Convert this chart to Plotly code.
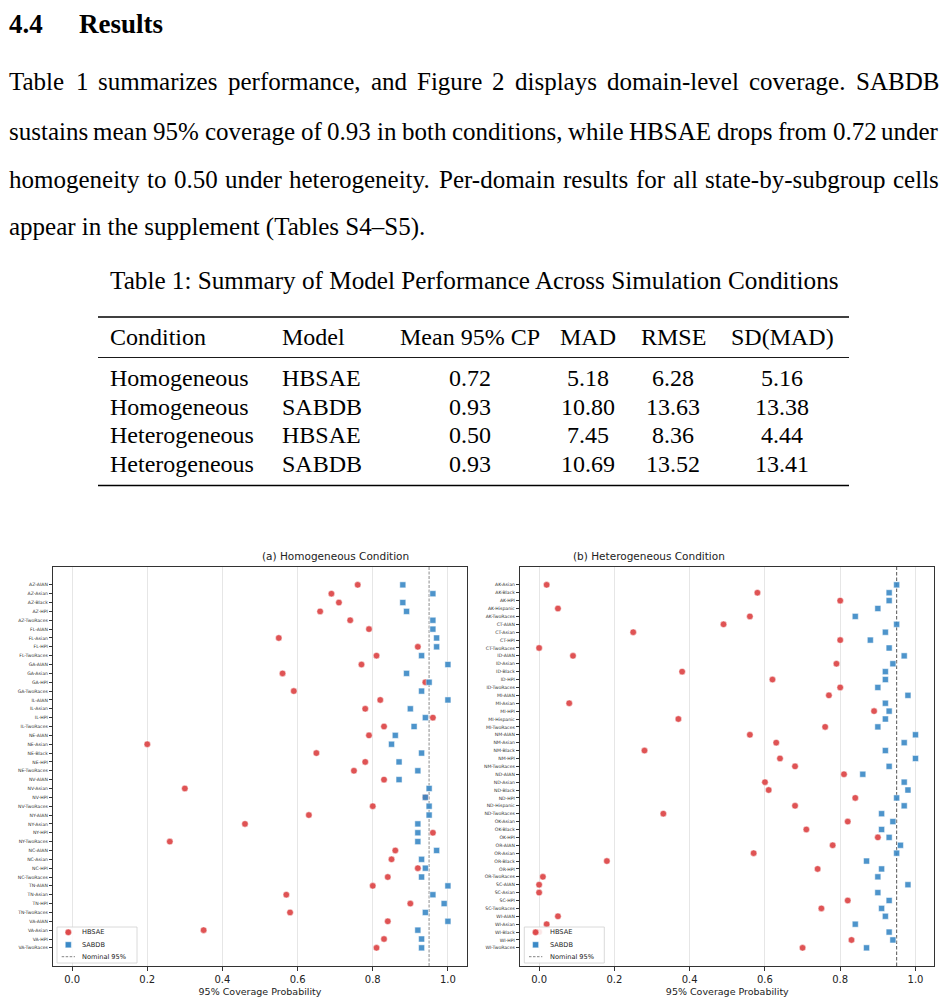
import plotly.graph_objects as go

W, H = 947, 1005
# the page body keeps an 8px margin, so the figure is drawn 8px smaller
OFF = 8
FW, FH = W - OFF, H - OFF

# -------------------------------------
# DATA
# -------------------------------------

homo_domains = [
    "AZ-AIAN", "AZ-Asian", "AZ-Black", "AZ-HPI", "AZ-TwoRaces",
    "FL-AIAN", "FL-Asian", "FL-HPI", "FL-TwoRaces",
    "GA-AIAN", "GA-Asian", "GA-HPI", "GA-TwoRaces",
    "IL-AIAN", "IL-Asian", "IL-HPI", "IL-TwoRaces",
    "NE-AIAN", "NE-Asian", "NE-Black", "NE-HPI", "NE-TwoRaces",
    "NV-AIAN", "NV-Asian", "NV-HPI", "NV-TwoRaces",
    "NY-AIAN", "NY-Asian", "NY-HPI", "NY-TwoRaces",
    "NC-AIAN", "NC-Asian", "NC-HPI", "NC-TwoRaces",
    "TN-AIAN", "TN-Asian", "TN-HPI", "TN-TwoRaces",
    "VA-AIAN", "VA-Asian", "VA-HPI", "VA-TwoRaces",
]
homo_hbsae = [
    0.76, 0.69, 0.71, 0.66, 0.74,
    0.79, 0.55, 0.92, 0.81,
    0.77, 0.56, 0.94, 0.59,
    0.82, 0.78, 0.96, 0.83,
    0.79, 0.20, 0.65, 0.78, 0.75,
    0.83, 0.30, 0.94, 0.80,
    0.63, 0.46, 0.96, 0.26,
    0.86, 0.85, 0.92, 0.84,
    0.80, 0.57, 0.90, 0.58,
    0.84, 0.35, 0.83, 0.81,
]
homo_sabdb = [
    0.88, 0.96, 0.88, 0.89, 0.96,
    0.96, 0.97, 0.97, 0.93,
    1.00, 0.89, 0.95, 0.93,
    1.00, 0.90, 0.94, 0.91,
    0.86, 0.85, 0.93, 0.87, 0.92,
    0.87, 0.95, 0.94, 0.95,
    0.95, 0.92, 0.92, 0.92,
    0.97, 0.93, 0.94, 0.93,
    1.00, 0.96, 0.99, 0.94,
    1.00, 0.92, 0.93, 0.93,
]

het_domains = [
    "AK-Asian", "AK-Black", "AK-HPI", "AK-Hispanic", "AK-TwoRaces",
    "CT-AIAN", "CT-Asian", "CT-HPI", "CT-TwoRaces",
    "ID-AIAN", "ID-Asian", "ID-Black", "ID-HPI", "ID-TwoRaces",
    "MI-AIAN", "MI-Asian", "MI-HPI", "MI-Hispanic", "MI-TwoRaces",
    "NM-AIAN", "NM-Asian", "NM-Black", "NM-HPI", "NM-TwoRaces",
    "ND-AIAN", "ND-Asian", "ND-Black", "ND-HPI", "ND-Hispanic", "ND-TwoRaces",
    "OK-Asian", "OK-Black", "OK-HPI",
    "OR-AIAN", "OR-Asian", "OR-Black", "OR-HPI", "OR-TwoRaces",
    "SC-AIAN", "SC-Asian", "SC-HPI", "SC-TwoRaces",
    "WI-AIAN", "WI-Asian", "WI-Black", "WI-HPI", "WI-TwoRaces",
]
het_hbsae = [
    0.02, 0.58, 0.80, 0.05, 0.56,
    0.49, 0.25, 0.80, 0.00,
    0.09, 0.79, 0.38, 0.62, 0.80,
    0.77, 0.08, 0.89, 0.37, 0.76,
    0.56, 0.63, 0.28, 0.64, 0.68,
    0.81, 0.60, 0.61, 0.84, 0.68, 0.33,
    0.82, 0.71, 0.90,
    0.78, 0.57, 0.18, 0.74, 0.01,
    0.00, 0.00, 0.82, 0.75,
    0.05, 0.02, 0.00, 0.83, 0.70,
]
het_sabdb = [
    0.95, 0.93, 0.93, 0.90, 0.84,
    0.95, 0.92, 0.88, 0.93,
    0.97, 0.94, 0.92, 0.92, 0.90,
    0.98, 0.92, 0.93, 0.92, 0.90,
    1.00, 0.97, 0.92, 1.00, 0.93,
    0.86, 0.97, 0.98, 0.95, 0.97, 0.91,
    0.94, 0.91, 0.93,
    0.96, 0.95, 0.87, 0.91, 0.90,
    0.98, 0.90, 0.93, 0.91,
    0.92, 0.84, 0.93, 0.94, 0.87,
]

NOMINAL = 0.95
x_ticks = [0.0, 0.2, 0.4, 0.6, 0.8, 1.0]
legend_labels = ["HBSAE", "SABDB", "Nominal 95%"]

table_header = ["Condition", "Model", "Mean 95% CP", "MAD", "RMSE", "SD(MAD)"]
table_condition = ["Homogeneous", "Homogeneous", "Heterogeneous", "Heterogeneous"]
table_model = ["HBSAE", "SABDB", "HBSAE", "SABDB"]
table_cp = ["0.72", "0.93", "0.50", "0.93"]
table_mad = ["5.18", "10.80", "7.45", "10.69"]
table_rmse = ["6.28", "13.63", "8.36", "13.52"]
table_sdmad = ["5.16", "13.38", "4.44", "13.41"]

body_lines = [
    "Table 1 summarizes performance, and Figure 2 displays domain-level coverage.  SABDB",
    "sustains mean 95% coverage of 0.93 in both conditions, while HBSAE drops from 0.72 under",
    "homogeneity to 0.50 under heterogeneity. Per-domain results for all state-by-subgroup cells",
    "appear in the supplement (Tables S4\u2013S5).",
]
caption = "Table 1: Summary of Model Performance Across Simulation Conditions"

# -------------------------------------
# HELPERS
# -------------------------------------

SERIF = "Liberation Serif"
SANS = "DejaVu Sans"
RED = "#de4a4b"
BLUE = "#3a89c6"

# Times-like advance widths (1/1000 em), used to justify the paragraph
CW = {" ": 250, "%": 833, "(": 333, ")": 333, ",": 250, "-": 333, ".": 250,
      ":": 278, "\u2013": 500}
CW.update({d: 500 for d in "0123456789"})
CW.update(dict(zip("ABCDEFGHIJKLMNOPQRSTUVWXYZ",
                   [722, 667, 667, 722, 611, 556, 722, 722, 333, 389, 722, 611, 889,
                    722, 722, 556, 722, 667, 556, 611, 722, 722, 944, 722, 722, 611])))
CW.update(dict(zip("abcdefghijklmnopqrstuvwxyz",
                   [444, 500, 444, 500, 444, 333, 500, 500, 278, 278, 500, 278, 778,
                    500, 500, 500, 500, 333, 389, 278, 500, 500, 722, 500, 500, 444])))


def text_width(s, size):
    return sum(CW.get(c, 500) for c in s) / 1000.0 * size


def px(x):
    return (x - OFF) / FW


def py(y):
    return 1 - (y - OFF) / FH


annotations = []


def add_text(text, x, y, size, anchor="left", family=SERIF, bold=False, color="black"):
    if bold:
        text = f"<b>{text}</b>"
    annotations.append(dict(
        text=text, x=px(x), y=py(y), xref="paper", yref="paper",
        xanchor=anchor, yanchor="middle", showarrow=False,
        borderpad=0, borderwidth=0,
        font=dict(family=family, size=size, color=color)
    ))


# -------------------------------------
# TEXT BLOCK
# -------------------------------------

add_text("4.4", 8.5, 24, 27, bold=True)
add_text("Results", 79, 24, 27, bold=True)

BODY_SIZE = 25
line_y = [82, 131, 179, 227]
x_left, x_right = 8.5, 939
for i, line in enumerate(body_lines):
    if i == len(body_lines) - 1:
        add_text(line, x_left, line_y[i], BODY_SIZE)
        continue
    words = line.split()
    widths = [text_width(w, BODY_SIZE) for w in words]
    gap = (x_right - x_left - sum(widths)) / (len(words) - 1)
    xpos = x_left
    for j, (w, wd) in enumerate(zip(words, widths)):
        if j == len(words) - 1:
            add_text(w, x_right, line_y[i], BODY_SIZE, anchor="right")
        else:
            add_text(w, xpos, line_y[i], BODY_SIZE)
        xpos += wd + gap

add_text(caption, 474, 280, 25.2, anchor="center")

# table
TAB = 24
col_x = [110, 282, 470, 588, 673, 782]
col_anchor = ["left", "left", "center", "center", "center", "center"]
for txt, x, a in zip(table_header, col_x, col_anchor):
    add_text(txt, x, 337, TAB, anchor=a)
row_y = [378, 407, 435, 464]
for r in range(len(table_condition)):
    cells = [table_condition[r], table_model[r], table_cp[r],
             table_mad[r], table_rmse[r], table_sdmad[r]]
    for txt, x, a in zip(cells, col_x, col_anchor):
        add_text(txt, x, row_y[r], TAB, anchor=a)

shapes = []
for yy, lw in [(317, 1.6), (357.5, 0.9), (485.5, 1.6)]:
    shapes.append(dict(type="line", xref="paper", yref="paper",
                       x0=px(98), x1=px(849), y0=py(yy), y1=py(yy),
                       line=dict(color="black", width=lw)))

# -------------------------------------
# FIGURE
# -------------------------------------

fig = go.Figure()

panels = [
    ("x", "y", homo_domains, homo_hbsae, homo_sabdb),
    ("x2", "y2", het_domains, het_hbsae, het_sabdb),
]
for xa, ya, doms, hb, sa in panels:
    fig.add_trace(go.Scatter(
        x=hb, y=doms, mode="markers", name="HBSAE", xaxis=xa, yaxis=ya,
        marker=dict(symbol="circle", size=6.5, color=RED, opacity=0.95,
                    line=dict(color="white", width=0.5))
    ))
    fig.add_trace(go.Scatter(
        x=sa, y=doms, mode="markers", name="SABDB", xaxis=xa, yaxis=ya,
        marker=dict(symbol="square", size=6, color=BLUE, opacity=0.9,
                    line=dict(color="white", width=0.5))
    ))

shapes.append(dict(type="line", xref="x", yref="y domain", x0=NOMINAL, x1=NOMINAL,
                   y0=0, y1=1, line=dict(color="#b8b8b8", width=1.6, dash="3px,1.5px"),
                   layer="below"))
shapes.append(dict(type="line", xref="x2", yref="y2 domain", x0=NOMINAL, x1=NOMINAL,
                   y0=0, y1=1, line=dict(color="#555555", width=1, dash="3.5px,2px"),
                   layer="below"))

# compact legends in the lower-left corner of each panel
for lx in [57, 524.3]:
    shapes.append(dict(type="rect", xref="paper", yref="paper",
                       x0=px(lx), x1=px(lx + 80), y0=py(963), y1=py(927),
                       fillcolor="rgba(255,255,255,0.85)",
                       line=dict(color="#d0d0d0", width=0.8)))
    cx = lx + 11.3
    shapes.append(dict(type="circle", xref="paper", yref="paper",
                       x0=px(cx - 3.2), x1=px(cx + 3.2), y0=py(932.3 + 3.2), y1=py(932.3 - 3.2),
                       fillcolor=RED, line=dict(color="white", width=0.4)))
    shapes.append(dict(type="rect", xref="paper", yref="paper",
                       x0=px(cx - 3), x1=px(cx + 3), y0=py(944.8 + 3), y1=py(944.8 - 3),
                       fillcolor=BLUE, line=dict(color="white", width=0.4)))
    shapes.append(dict(type="line", xref="paper", yref="paper",
                       x0=px(lx + 4.7), x1=px(lx + 18), y0=py(956.7), y1=py(956.7),
                       line=dict(color="#777777", width=0.9, dash="2.5px,1.5px")))
    for lab, yy in zip(legend_labels, [932.3, 944.8, 956.7]):
        add_text(lab, lx + 25.3, yy, 6.6, family=SANS, color="#222222")

axis_common = dict(
    showline=True, linecolor="#333333", linewidth=1, mirror=True,
    ticks="outside", ticklen=3.5, tickwidth=0.8, tickcolor="#333333",
    zeroline=False,
)
x_common = dict(
    axis_common, range=[-0.05, 1.05], tickvals=x_ticks,
    ticktext=[f"{t:.1f}" for t in x_ticks],
    showgrid=True, gridcolor="#e6e6e6", gridwidth=1,
    tickfont=dict(family=SANS, size=10, color="#222222"),
    title=dict(text="95% Coverage Probability", standoff=4,
               font=dict(family=SANS, size=9.5, color="#222222")),
)


def y_axis(doms):
    pad = 0.05 * (len(doms) - 1)
    return dict(
        axis_common, type="category", categoryorder="array", categoryarray=doms,
        range=[len(doms) - 1 + pad, -pad], showgrid=False,
        tickfont=dict(family=SANS, size=4.6, color="#333333"),
        domain=[py(966), py(566.7)],
    )


fig.update_layout(
    width=FW, height=FH,
    margin=dict(l=0, r=0, t=0, b=0),
    paper_bgcolor="white", plot_bgcolor="white",
    showlegend=False,
    xaxis=dict(x_common, domain=[px(53.3), px(466.7)], anchor="y"),
    yaxis=dict(y_axis(homo_domains), anchor="x"),
    xaxis2=dict(x_common, domain=[px(520.3), px(934.3)], anchor="y2"),
    yaxis2=dict(y_axis(het_domains), anchor="x2"),
    annotations=annotations,
    shapes=shapes,
)

fig.add_annotation(text="(a) Homogeneous Condition", x=px(260), y=py(556),
                   xref="paper", yref="paper", showarrow=False,
                   font=dict(family=SANS, size=10.5, color="#222222"))
fig.add_annotation(text="(b) Heterogeneous Condition", x=px(727), y=py(556),
                   xref="paper", yref="paper", showarrow=False,
                   font=dict(family=SANS, size=10.5, color="#222222"))

fig.write_html("out.html")
